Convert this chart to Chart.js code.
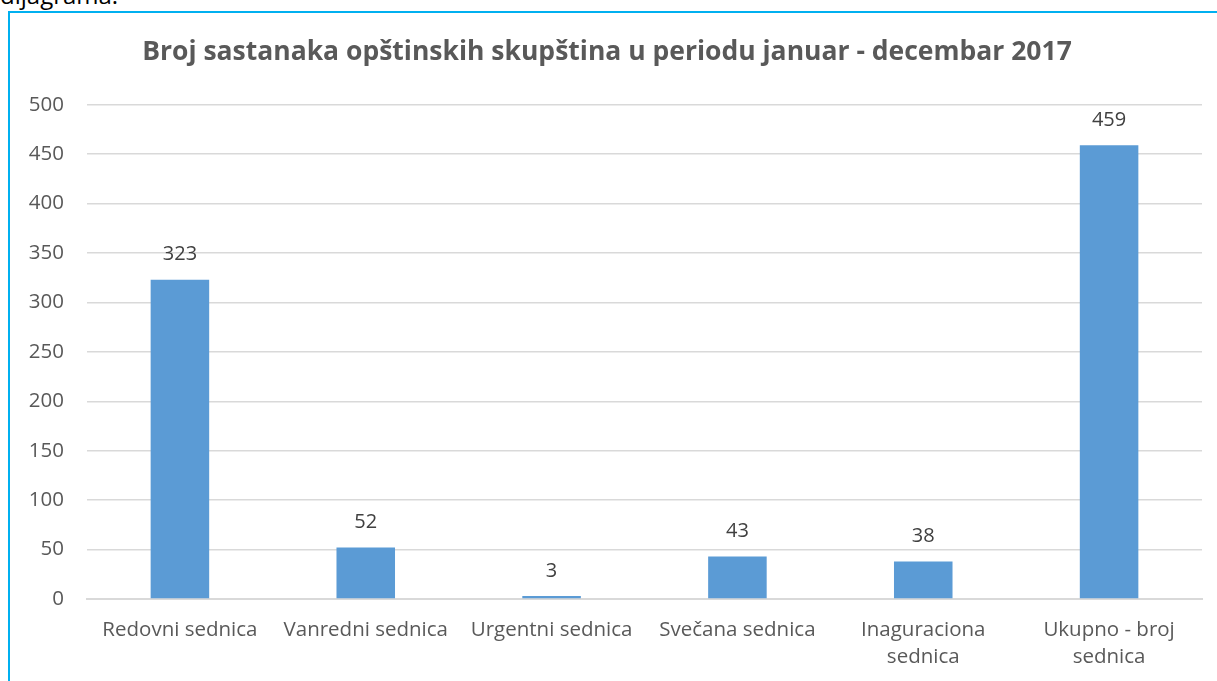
<!DOCTYPE html>
<html>
<head>
<meta charset="utf-8">
<script src="https://cdn.jsdelivr.net/npm/chart.js@4.4.0/dist/chart.umd.min.js"></script>
<style>
  html, body { margin: 0; padding: 0; background: #fff; overflow: hidden; }
  body { width: 1217px; height: 681px; position: relative; font-family: "Open Sans", sans-serif; }
  #lead { position: absolute; left: 0; top: -22px; font-size: 24px; color: #000; }
  #frame { position: absolute; left: 8px; top: 11px; width: 1209px; height: 670px;
           border-left: 2px solid #00B0F0; border-top: 2px solid #00B0F0; }
  #wrap { position: absolute; left: 2px; top: 2px; width: 1207px; height: 668px; }
</style>
</head>
<body>
<div id="lead">dijagrama.</div>
<div id="frame"><div id="wrap"><canvas id="myChart"></canvas></div></div>
<script>
// Sessions of municipal assemblies, Jan - Dec 2017
const categories = ['Redovni sednica', 'Vanredni sednica', 'Urgentni sednica', 'Svečana sednica',
                    ['Inaguraciona', 'sednica'], ['Ukupno - broj', 'sednica']];
const sessions = [323, 52, 3, 43, 38, 459];
const yTicks = [0, 50, 100, 150, 200, 250, 300, 350, 400, 450, 500];

const grayText = '#595959';
const fontName = '"Open Sans", sans-serif';

// draw the value above each bar
const valueLabels = {
  id: 'valueLabels',
  afterDatasetsDraw(chart) {
    const ctx = chart.ctx;
    const meta = chart.getDatasetMeta(0);
    ctx.save();
    ctx.font = '20px ' + fontName;
    ctx.fillStyle = '#404040';
    ctx.textAlign = 'center';
    ctx.textBaseline = 'middle';
    meta.data.forEach(function(bar, i) {
      ctx.fillText(chart.data.datasets[0].data[i], bar.x, bar.y - 25);
    });
    ctx.restore();
  }
};

const ctx1 = document.getElementById('myChart');
new Chart(ctx1, {
  type: 'bar',
  data: {
    labels: categories,
    datasets: [{
      label: 'Broj sednica',
      data: sessions,
      backgroundColor: '#5B9BD5',
      categoryPercentage: 1.0,
      barPercentage: 0.315
    }]
  },
  options: {
    responsive: true,
    maintainAspectRatio: false,
    animation: false,
    layout: { padding: { left: 0, right: 17, top: 0, bottom: 0 } },
    plugins: {
      legend: { display: false },
      tooltip: { enabled: false },
      title: {
        display: true,
        text: 'Broj sastanaka opštinskih skupština u periodu januar - decembar 2017',
        color: grayText,
        font: { family: fontName, size: 26.5, weight: 'bold' },
        padding: { top: 22, bottom: 36 }
      }
    },
    scales: {
      x: {
        grid: { display: false },
        border: { color: '#D9D9D9', width: 2 },
        ticks: {
          color: grayText,
          font: { family: fontName, size: 20.5, lineHeight: 1.35 },
          maxRotation: 0,
          autoSkip: false,
          padding: 9
        },
        afterFit: function(scale) { scale.height = 84; }
      },
      y: {
        min: 0,
        max: 500,
        afterBuildTicks: function(scale) {
          scale.ticks = yTicks.map(function(v) { return { value: v }; });
        },
        grid: { color: '#D9D9D9', lineWidth: 1.5, drawTicks: false },
        border: { display: false },
        ticks: {
          color: grayText,
          font: { family: fontName, size: 20.5 },
          padding: 23
        },
        afterFit: function(scale) { scale.width = 75; }
      }
    }
  },
  plugins: [valueLabels]
});
</script>
</body>
</html>
